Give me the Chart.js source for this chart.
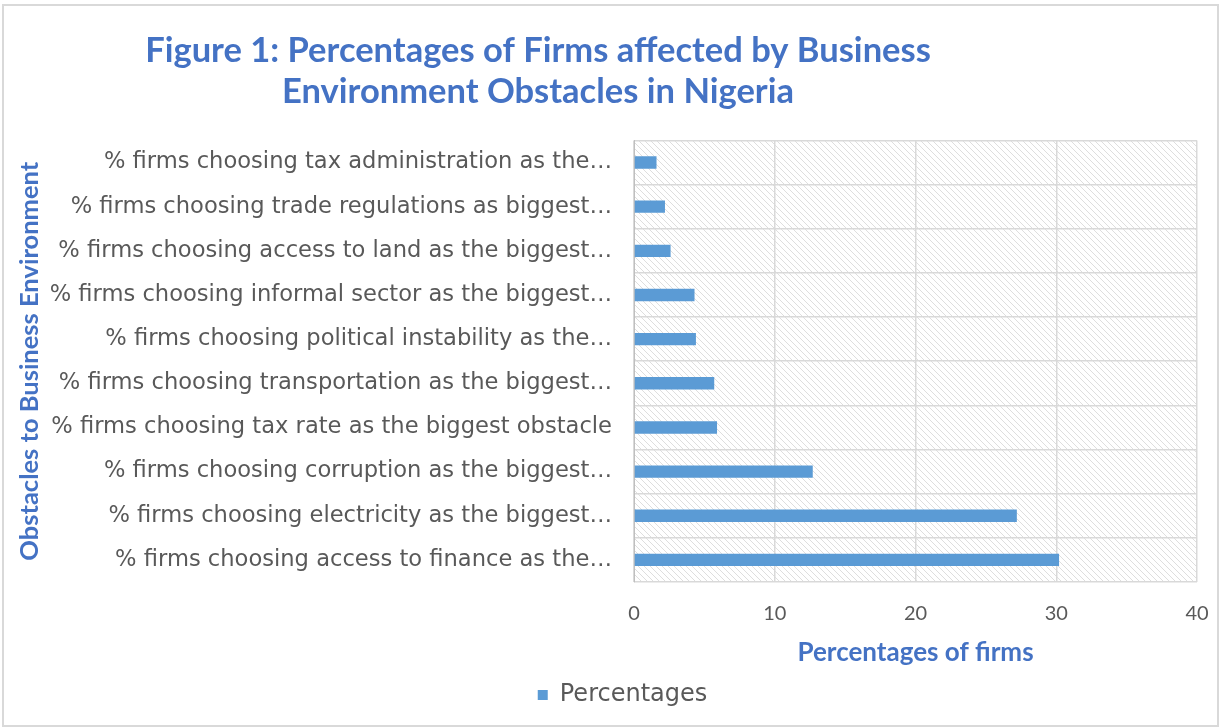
<!DOCTYPE html>
<html>
<head>
<meta charset="utf-8">
<script src="https://cdn.jsdelivr.net/npm/chart.js@4.4.0/dist/chart.umd.min.js"></script>
<style>
  html, body { margin: 0; padding: 0; background: #fff; }
  #wrap { width: 1221px; height: 728px; }
</style>
</head>
<body>
<div id="wrap"><canvas id="obstacles"></canvas></div>
<script>
var categories = [
  '% firms choosing tax administration as the\u2026',
  '% firms choosing trade regulations as biggest\u2026',
  '% firms choosing access to land as the biggest\u2026',
  '% firms choosing informal sector as the biggest\u2026',
  '% firms choosing political instability as the\u2026',
  '% firms choosing transportation as the biggest\u2026',
  '% firms choosing tax rate as the biggest obstacle',
  '% firms choosing corruption as the biggest\u2026',
  '% firms choosing electricity as the biggest\u2026',
  '% firms choosing access to finance as the\u2026'
]
var percentages = [1.6, 2.2, 2.6, 4.3, 4.4, 5.7, 5.9, 12.7, 27.2, 30.2]
var xTicks = [0, 10, 20, 30, 40]

var blue = '#4472C4'
var grey = '#595959'

// diagonal hatch for the plot area
function hatch() {
  var c = document.createElement('canvas')
  c.width = 6; c.height = 6
  var g = c.getContext('2d')
  g.strokeStyle = '#dedede'
  g.lineWidth = 1
  g.beginPath()
  g.moveTo(0, 0); g.lineTo(6, 6)
  g.moveTo(-3, 3); g.lineTo(3, 9)
  g.moveTo(3, -3); g.lineTo(9, 3)
  g.stroke()
  return g.createPattern(c, 'repeat')
}

var decor = {
  id: 'decor',
  afterLayout: function(chart) {
    // title sits left of centre, legend slightly right of it
    chart.titleBlock.left = 0
    chart.titleBlock.right = 1076
    chart.legend.left = chart.legend.left + 42
  },
  beforeDraw: function(chart) {
    var ctx = chart.ctx, a = chart.chartArea
    ctx.save()
    ctx.strokeStyle = '#d9d9d9'
    ctx.lineWidth = 2
    ctx.strokeRect(3, 5, 1215, 721)
    ctx.fillStyle = hatch()
    ctx.fillRect(a.left, a.top, a.right - a.left, a.bottom - a.top)
    ctx.restore()
  }
}

var chart = new Chart(document.getElementById('obstacles'), {
  type: 'bar',
  data: {
    labels: categories,
    datasets: [{
      label: 'Percentages',
      data: percentages,
      backgroundColor: '#5B9BD5',
      barPercentage: 0.28,
      categoryPercentage: 1
    }]
  },
  options: {
    indexAxis: 'y',
    responsive: true,
    maintainAspectRatio: false,
    animation: false,
    layout: { padding: { top: 8, left: 6, right: 24, bottom: 11 } },
    plugins: {
      title: {
        display: true,
        text: ['Figure 1: Percentages of Firms affected by Business', 'Environment Obstacles in Nigeria'],
        color: blue,
        font: { family: 'Lato', size: 34.5, weight: 'bold', lineHeight: 1.18 },
        padding: { top: 23, bottom: 28 }
      },
      legend: {
        position: 'bottom',
        labels: {
          color: grey,
          font: { family: 'DejaVu Sans', size: 24, lineHeight: 1.05 },
          boxWidth: 10,
          boxHeight: 10,
          padding: 8
        }
      },
      tooltip: { enabled: false }
    },
    scales: {
      x: {
        min: 0,
        max: 40,
        afterBuildTicks: function(s) { s.ticks = xTicks.map(function(v) { return { value: v } }) },
        afterFit: function(s) { s.height = 93 },
        grid: { color: '#d9d9d9', lineWidth: 1.5, drawTicks: true, tickLength: 17, tickColor: 'rgba(0,0,0,0)' },
        border: { display: false },
        ticks: { color: grey, padding: 3, font: { family: 'Lato', size: 20 } },
        title: {
          display: true,
          text: 'Percentages of firms',
          color: blue,
          font: { family: 'Lato', size: 26, weight: 'bold' },
          padding: { top: 2, bottom: 7 }
        }
      },
      y: {
        afterFit: function(s) { s.width = 628 },
        grid: { color: '#d9d9d9', lineWidth: 1.5, drawTicks: false },
        border: { color: '#bfbfbf' },
        ticks: { color: grey, padding: 22, font: { family: 'DejaVu Sans', size: 22.6 } },
        title: {
          display: true,
          text: 'Obstacles to Business Environment',
          color: blue,
          font: { family: 'Lato', size: 25.5, weight: 'bold' },
          padding: { top: 8 }
        }
      }
    }
  },
  plugins: [decor]
})
</script>
</body>
</html>
